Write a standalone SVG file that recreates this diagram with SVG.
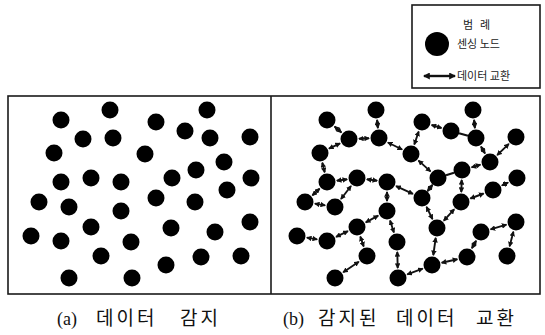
<svg xmlns="http://www.w3.org/2000/svg" width="545" height="335" viewBox="0 0 545 335">
<style>
.frame{fill:none;stroke:#1a1a1a;stroke-width:1.6}
.n{fill:#000}
.e{stroke:#111;stroke-width:1.9;fill:none;marker-start:url(#ah);marker-end:url(#ah)}
.p{stroke:#111;stroke-width:2.2;fill:none}
.lg{font-family:"Noto Sans CJK KR","Liberation Sans",sans-serif;font-size:11px;fill:#222}
.cap{font-family:"Liberation Serif","Noto Sans CJK KR",serif;font-size:18px;fill:#111}
.hk{font-family:"Noto Sans CJK KR",sans-serif;font-size:19px;letter-spacing:3px}
</style>
<defs>
<marker id="ah" viewBox="0 0 6 6" refX="5" refY="3" markerWidth="5.5" markerHeight="5.5" markerUnits="userSpaceOnUse" orient="auto-start-reverse">
<path d="M0,0 L6,3 L0,6 z" fill="#111"/>
</marker>
<marker id="ahl" viewBox="0 0 6 6" refX="5" refY="3" markerWidth="7" markerHeight="7" markerUnits="userSpaceOnUse" orient="auto-start-reverse">
<path d="M0,0 L6,3 L0,6 z" fill="#111"/>
</marker>
<circle id="dot" r="8.5"/>
</defs>

<g id="legend">
<rect class="frame" x="412" y="5" width="128" height="83"/>
<text class="lg" x="468" y="29" text-anchor="middle">범</text>
<text class="lg" x="485" y="29" text-anchor="middle">례</text>
<circle class="n" cx="437" cy="44" r="12"/>
<text class="lg" x="457" y="48">센싱 노드</text>
<line x1="424" y1="76" x2="455" y2="76" stroke="#111" stroke-width="2.4" marker-start="url(#ahl)" marker-end="url(#ahl)"/>
<text class="lg" x="457" y="80">데이터 교환</text>
</g>

<g id="panels">
<rect class="frame" x="8" y="96" width="532" height="198"/>
<line class="frame" x1="271" y1="96" x2="271" y2="294"/>
</g>

<g id="nodes-a" transform="translate(-266,0)">
<use href="#dot" x="327" y="120"/><use href="#dot" x="376" y="110"/><use href="#dot" x="422" y="122"/><use href="#dot" x="473" y="110"/>
<use href="#dot" x="349" y="139"/><use href="#dot" x="379" y="138"/><use href="#dot" x="451" y="131"/><use href="#dot" x="476" y="138"/>
<use href="#dot" x="516" y="137"/><use href="#dot" x="320" y="153"/><use href="#dot" x="411" y="154"/><use href="#dot" x="490" y="162"/>
<use href="#dot" x="462" y="170"/><use href="#dot" x="327" y="182"/><use href="#dot" x="357" y="178"/><use href="#dot" x="387" y="182"/>
<use href="#dot" x="438" y="178"/><use href="#dot" x="517" y="178"/><use href="#dot" x="493" y="190"/><use href="#dot" x="305" y="202"/>
<use href="#dot" x="335" y="207"/><use href="#dot" x="422" y="198"/><use href="#dot" x="461" y="202"/><use href="#dot" x="387" y="211"/>
<use href="#dot" x="357" y="227"/><use href="#dot" x="437" y="228"/><use href="#dot" x="481" y="232"/><use href="#dot" x="516" y="222"/>
<use href="#dot" x="297" y="236"/><use href="#dot" x="327" y="241"/><use href="#dot" x="397" y="242"/><use href="#dot" x="367" y="256"/>
<use href="#dot" x="432" y="265"/><use href="#dot" x="467" y="257"/><use href="#dot" x="507" y="256"/><use href="#dot" x="335" y="278"/>
<use href="#dot" x="398" y="278"/>
</g>

<g id="nodes-b">
<use href="#dot" x="327" y="120"/><use href="#dot" x="376" y="110"/><use href="#dot" x="422" y="122"/><use href="#dot" x="473" y="110"/>
<use href="#dot" x="349" y="139"/><use href="#dot" x="379" y="138"/><use href="#dot" x="451" y="131"/><use href="#dot" x="476" y="138"/>
<use href="#dot" x="516" y="137"/><use href="#dot" x="320" y="153"/><use href="#dot" x="411" y="154"/><use href="#dot" x="490" y="162"/>
<use href="#dot" x="462" y="170"/><use href="#dot" x="327" y="182"/><use href="#dot" x="357" y="178"/><use href="#dot" x="387" y="182"/>
<use href="#dot" x="438" y="178"/><use href="#dot" x="517" y="178"/><use href="#dot" x="493" y="190"/><use href="#dot" x="305" y="202"/>
<use href="#dot" x="335" y="207"/><use href="#dot" x="422" y="198"/><use href="#dot" x="461" y="202"/><use href="#dot" x="387" y="211"/>
<use href="#dot" x="357" y="227"/><use href="#dot" x="437" y="228"/><use href="#dot" x="481" y="232"/><use href="#dot" x="516" y="222"/>
<use href="#dot" x="297" y="236"/><use href="#dot" x="327" y="241"/><use href="#dot" x="397" y="242"/><use href="#dot" x="367" y="256"/>
<use href="#dot" x="432" y="265"/><use href="#dot" x="467" y="257"/><use href="#dot" x="507" y="256"/><use href="#dot" x="335" y="278"/>
<use href="#dot" x="398" y="278"/>
</g>

<g id="connectors">
<line class="e" x1="334.6" y1="126.5" x2="341.4" y2="132.5"/>
<line class="e" x1="359" y1="138.7" x2="369" y2="138.3"/>
<line class="e" x1="377.1" y1="119.9" x2="377.9" y2="128.1"/>
<line class="e" x1="340" y1="143.3" x2="329" y2="148.6"/>
<line class="e" x1="387.9" y1="142.5" x2="402.1" y2="149.5"/>
<line class="e" x1="431.6" y1="125" x2="441.5" y2="128"/>
<line class="e" x1="418.7" y1="131.5" x2="414.3" y2="144.5"/>
<line class="e" x1="474.1" y1="119.9" x2="474.9" y2="128.1"/>
<line class="p" x1="459" y1="133.3" x2="468" y2="135.8"/>
<line class="e" x1="481" y1="146.6" x2="485" y2="153.4"/>
<line class="e" x1="508.8" y1="143.9" x2="497.2" y2="155.1"/>
<line class="e" x1="480.4" y1="164.7" x2="471.6" y2="167.3"/>
<line class="e" x1="418.5" y1="160.6" x2="430.5" y2="171.4"/>
<line class="p" x1="454" y1="172.7" x2="446" y2="175.3"/>
<line class="e" x1="461.7" y1="180" x2="461.3" y2="192"/>
<line class="e" x1="322.3" y1="162.7" x2="324.7" y2="172.3"/>
<line class="e" x1="336.9" y1="180.7" x2="347.1" y2="179.3"/>
<line class="e" x1="319.6" y1="188.7" x2="312.4" y2="195.3"/>
<line class="e" x1="351" y1="186" x2="341" y2="199"/>
<line class="e" x1="366.9" y1="179.3" x2="377.1" y2="180.7"/>
<line class="e" x1="314.9" y1="203.6" x2="325.1" y2="205.4"/>
<line class="e" x1="396.1" y1="186.2" x2="412.9" y2="193.8"/>
<line class="e" x1="387" y1="192" x2="387" y2="201"/>
<line class="e" x1="432.5" y1="184.8" x2="427.5" y2="191.2"/>
<line class="e" x1="508.1" y1="182.5" x2="501.9" y2="185.5"/>
<line class="e" x1="483.6" y1="193.5" x2="470.4" y2="198.5"/>
<line class="e" x1="426.5" y1="206.9" x2="432.5" y2="219.1"/>
<line class="e" x1="454.2" y1="209.3" x2="443.8" y2="220.7"/>
<line class="e" x1="378.2" y1="215.7" x2="365.8" y2="222.3"/>
<line class="e" x1="390.1" y1="220.5" x2="393.9" y2="232.5"/>
<line class="e" x1="347.9" y1="231.2" x2="336.1" y2="236.8"/>
<line class="e" x1="306.9" y1="237.6" x2="317.1" y2="239.4"/>
<line class="e" x1="360.3" y1="236.5" x2="363.7" y2="246.5"/>
<line class="e" x1="358.8" y1="261.7" x2="343.2" y2="272.3"/>
<line class="e" x1="397.3" y1="252" x2="397.7" y2="268"/>
<line class="e" x1="407.3" y1="274.4" x2="422.7" y2="268.6"/>
<line class="e" x1="435.7" y1="237.9" x2="433.3" y2="255.1"/>
<line class="e" x1="441.7" y1="262.8" x2="457.3" y2="259.2"/>
<line class="e" x1="471.9" y1="248.3" x2="476.1" y2="240.7"/>
<line class="e" x1="490.6" y1="229.3" x2="506.4" y2="224.7"/>
<line class="e" x1="513.4" y1="231.7" x2="509.6" y2="246.3"/>
</g>

<g id="captions">
<text class="cap" x="57" y="325">(a)<tspan class="hk" x="96">데이터</tspan><tspan class="hk" x="180">감지</tspan></text>
<text class="cap" x="283" y="325">(b)<tspan class="hk" x="318">감지된</tspan><tspan class="hk" x="396">데이터</tspan><tspan class="hk" x="476">교환</tspan></text>
</g>
</svg>
